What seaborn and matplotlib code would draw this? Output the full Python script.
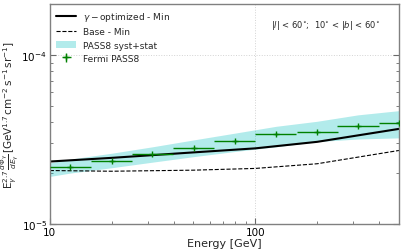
"""
Spectrum plot: gamma-optimized vs base model against Fermi PASS8
"""
import numpy as np
import pandas as pd
import matplotlib
matplotlib.use("Agg")
import matplotlib.pyplot as plt
import matplotlib.ticker as mticker
import seaborn as sns

# model curves
energy_model = [10, 20, 50, 100, 200, 500]
gamma_opt_min = [2.34e-5, 2.46e-5, 2.65e-5, 2.80e-5, 3.06e-5, 3.65e-5]
base_min = [2.07e-5, 2.05e-5, 2.08e-5, 2.13e-5, 2.27e-5, 2.72e-5]

# PASS8 systematic + statistical band
energy_band = [10, 12.6, 20, 31.6, 50, 79, 126, 200, 316, 500]
band_low = [1.91e-5, 2.00e-5, 2.15e-5, 2.32e-5, 2.50e-5, 2.68e-5, 2.86e-5, 3.07e-5, 3.18e-5, 3.23e-5]
band_high = [2.30e-5, 2.42e-5, 2.62e-5, 2.86e-5, 3.14e-5, 3.44e-5, 3.78e-5, 4.05e-5, 4.42e-5, 4.68e-5]

# Fermi PASS8 data points
energy_fermi = [12.6, 20.0, 31.6, 50.1, 79.4, 126, 200, 316, 501]
flux_fermi = [2.18e-5, 2.36e-5, 2.58e-5, 2.83e-5, 3.10e-5, 3.39e-5, 3.50e-5, 3.80e-5, 3.98e-5]
flux_fermi_err = [0.03e-5, 0.03e-5, 0.03e-5, 0.03e-5, 0.03e-5, 0.04e-5, 0.04e-5, 0.04e-5, 0.05e-5]

sns.set_theme(style="ticks", color_codes=False)
plt.rcParams['font.family'] = ['DejaVu Sans']
plt.rcParams['mathtext.fontset'] = 'dejavusans'

fig, ax = plt.subplots(figsize=(4.05, 2.53), dpi=100)
fig.subplots_adjust(left=0.123, right=0.985, bottom=0.111, top=0.980)

df_model = pd.DataFrame({'E': energy_model, 'opt': gamma_opt_min, 'base': base_min})

sns.lineplot(data=df_model, x='E', y='opt', color='black', linewidth=1.5,
             label=r'$\gamma-$optimized - Min', ax=ax)
sns.lineplot(data=df_model, x='E', y='base', color='black', linewidth=0.8,
             linestyle='--', label='Base - Min', ax=ax)
ax.fill_between(energy_band, band_low, band_high, color=(0.0, 0.75, 0.75), alpha=0.3,
                linewidth=0, label='PASS8 syst+stat')

# horizontal bin widths: +-0.1 decade
e = np.array(energy_fermi)
xerr = [e - e / 10 ** 0.1, e * 10 ** 0.1 - e]
ax.errorbar(energy_fermi, flux_fermi, yerr=flux_fermi_err, xerr=xerr,
            fmt='+', color='green', markersize=4, elinewidth=1.0,
            label='Fermi PASS8', zorder=3)

ax.set_xscale('log')
ax.set_yscale('log')
ax.set_xlim(10, 500)
ax.set_ylim(1e-5, 2e-4)
ax.xaxis.set_major_formatter(mticker.FuncFormatter(lambda v, p: f'{v:g}'))
ax.xaxis.set_minor_formatter(mticker.NullFormatter())

ax.set_xlabel('Energy [GeV]', fontsize=8, labelpad=1)
ax.set_ylabel(r'$\mathrm{E}_\gamma^{2.7}\,\frac{d\Phi_\gamma}{dE_\gamma}\,'
              r'[\mathrm{GeV}^{1.7}\,\mathrm{cm}^{-2}\,\mathrm{s}^{-1}\,\mathrm{sr}^{-1}]$',
              fontsize=7.5, labelpad=0)

ax.tick_params(which='both', direction='in', top=False, right=True,
               colors='dimgray', labelcolor='black', labelsize=7.5)
ax.tick_params(which='major', length=4, width=0.8, pad=2)
ax.tick_params(which='minor', length=2, width=0.6)
for sp in ax.spines.values():
    sp.set_color('gray')
    sp.set_linewidth(1.0)

ax.grid(True, which='major', linestyle=':', color='lightgray', linewidth=0.7)

ax.text(0.79, 0.905, r'$|l|$ < 60$^{\circ}$;  10$^{\circ}$ < $|b|$ < 60$^{\circ}$',
        transform=ax.transAxes, fontsize=6, ha='center', va='center')

ax.legend(loc='upper left', frameon=False, fontsize=6.5, handlelength=2.2,
          borderaxespad=0.3, labelspacing=0.45)

plt.savefig('out.png', dpi=100)
plt.close()
